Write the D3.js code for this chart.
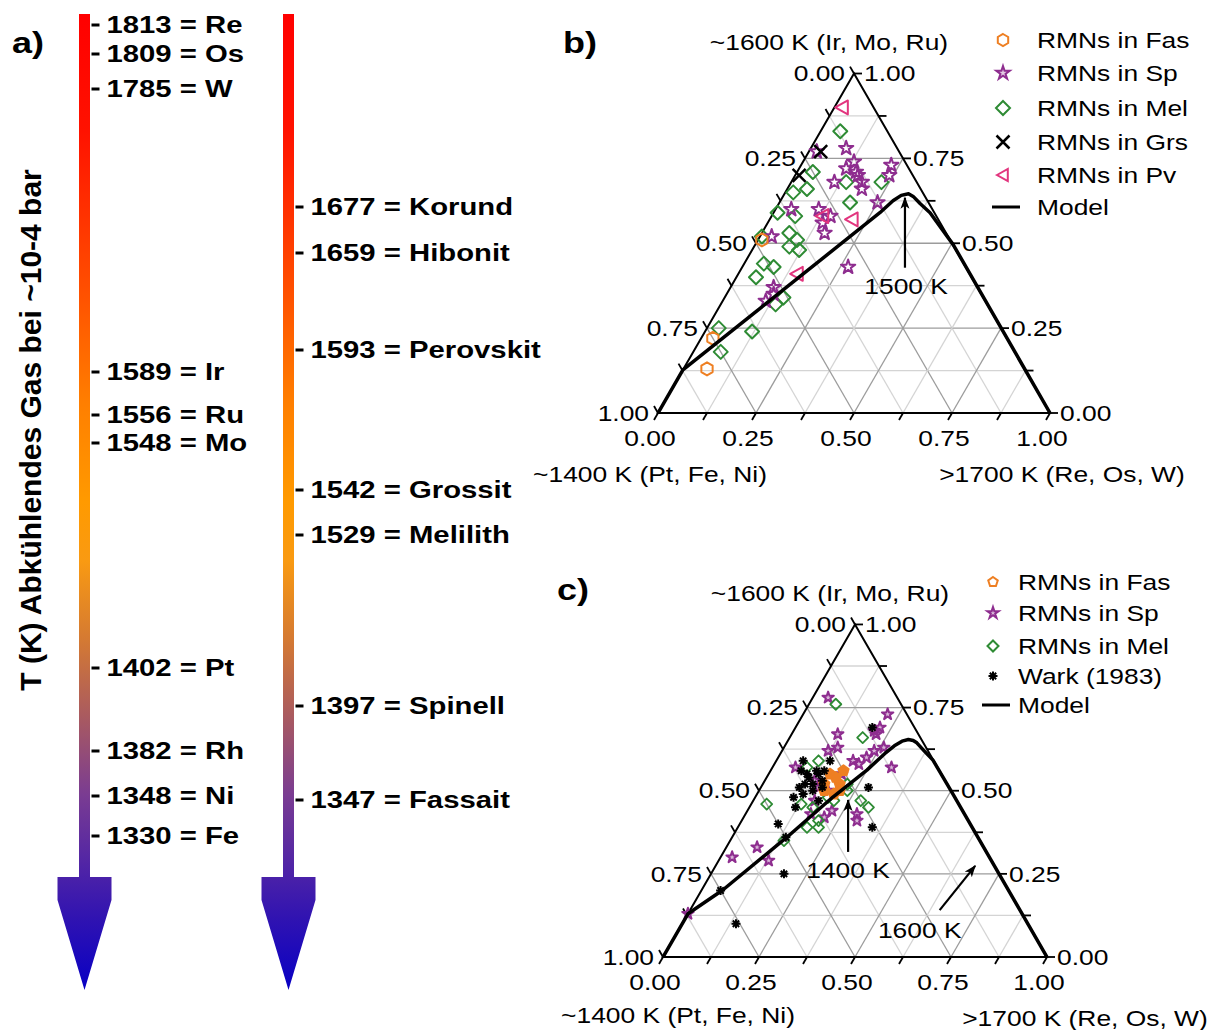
<!DOCTYPE html>
<html>
<head>
<meta charset="utf-8">
<script src="https://cdn.jsdelivr.net/npm/d3@7"></script>
<style>
  body { margin: 0; background: #fff; }
  text { font-family: "Liberation Sans", Arial, sans-serif; fill: #000; }
</style>
</head>
<body>
<svg id="chart" width="1217" height="1030"></svg>
<script>
// ---- panel a: condensation temperatures (K)
const leftNames = ['Re', 'Os', 'W', 'Ir', 'Ru', 'Mo', 'Pt', 'Rh', 'Ni', 'Fe'];
const leftTemps = [1813, 1809, 1785, 1589, 1556, 1548, 1402, 1382, 1348, 1330];
const rightNames = ['Korund', 'Hibonit', 'Perovskit', 'Grossit', 'Melilith', 'Spinell', 'Fassait'];
const rightTemps = [1677, 1659, 1593, 1542, 1529, 1397, 1347];
const axisTitleA = 'T (K) Abkühlendes Gas bei ~10-4 bar';

// ---- ternary data: [Re+Os+W fraction (bottom axis), Ir+Mo+Ru fraction (right axis)]
const tickValues = [0, 0.25, 0.5, 0.75, 1];
const titleTop = '~1600 K (Ir, Mo, Ru)';
const titleLeft = '~1400 K (Pt, Fe, Ni)';
const titleRight = '>1700 K (Re, Os, W)';

const fasB = [[0.01, 0.51], [0.03, 0.22], [0.06, 0.13]];
const spB = [[0.02, 0.77], [0.09, 0.78], [0.13, 0.74], [0.12, 0.72], [0.15, 0.71], [0.16, 0.70], [0.18, 0.68],
  [0.19, 0.66], [0.23, 0.73], [0.24, 0.70], [0.11, 0.68], [0.25, 0.62], [0.04, 0.60], [0.11, 0.60], [0.15, 0.58],
  [0.14, 0.56], [0.16, 0.53], [0.03, 0.52], [0.27, 0.43], [0.11, 0.37], [0.11, 0.33], [0.12, 0.35]];
const melB = [[0.05, 0.83], [0.04, 0.71], [0.05, 0.66], [0.14, 0.68], [0.18, 0.62], [0.23, 0.68], [0.02, 0.65],
  [0.01, 0.59], [0.06, 0.58], [0.005, 0.52], [0.07, 0.53], [0.10, 0.51], [0.09, 0.49], [0.12, 0.48], [0.05, 0.44],
  [0.08, 0.43], [0.05, 0.40], [0.15, 0.34], [0.14, 0.32], [0.12, 0.24], [0.03, 0.25], [0.07, 0.18]];
const grsB = [[0.03, 0.77], [0.01, 0.70]];
const pvB = [[0.02, 0.90], [0.13, 0.58], [0.21, 0.57], [0.15, 0.41]];
const modelB = [[0, 0], [0, 0.127], [0.271, 0.590], [0.287, 0.625], [0.300, 0.641], [0.316, 0.646],
  [0.332, 0.638], [0.360, 0.617], [0.399, 0.590], [0.505, 0.496], [1, 0]];

const fasC = [[0.16, 0.55], [0.20, 0.52], [0.20, 0.49], [0.19, 0.56], [0.16, 0.52], [0.18, 0.54], [0.21, 0.50], [0.17, 0.50]];
const spC = [[0.04, 0.78], [0.22, 0.73], [0.22, 0.69], [0.21, 0.68], [0.22, 0.67], [0.12, 0.67], [0.12, 0.62],
  [0.14, 0.63], [0.06, 0.57], [0.20, 0.59], [0.23, 0.60], [0.24, 0.62], [0.26, 0.63], [0.31, 0.57], [0.22, 0.58],
  [0.13, 0.53], [0.15, 0.51], [0.29, 0.43], [0.30, 0.41], [0.22, 0.44], [0.21, 0.42], [0.17, 0.43], [0.16, 0.47],
  [0.08, 0.33], [0.03, 0.30], [0.13, 0.29], [0.0, 0.13], [0.18, 0.50], [0.19, 0.55]];
const melC = [[0.07, 0.76], [0.19, 0.66], [0.11, 0.59], [0.09, 0.57], [0.04, 0.46], [0.28, 0.47], [0.31, 0.45],
  [0.13, 0.46], [0.18, 0.39], [0.21, 0.39], [0.14, 0.35], [0.21, 0.47], [0.165, 0.45], [0.20, 0.41], [0.23, 0.50],
  [0.22, 0.52], [0.19, 0.48]];
const warkC = [[0.07, 0.59], [0.20, 0.69], [0.28, 0.51], [0.35, 0.39], [0.10, 0.40], [0.10, 0.48], [0.14, 0.36],
  [0.19, 0.25], [0.05, 0.20], [0.14, 0.10], [0.08, 0.56], [0.11, 0.54], [0.12, 0.56], [0.15, 0.53], [0.14, 0.50],
  [0.12, 0.49], [0.14, 0.56], [0.17, 0.47], [0.12, 0.45], [0.14, 0.59], [0.10, 0.55], [0.13, 0.52], [0.13, 0.55],
  [0.16, 0.51], [0.10, 0.51], [0.11, 0.52]];
const modelC = [[0, 0], [0, 0.13], [0.055, 0.2015], [0.143, 0.361], [0.202, 0.481], [0.250, 0.562], [0.272, 0.612],
  [0.285, 0.635], [0.298, 0.649], [0.312, 0.654], [0.326, 0.651], [0.339, 0.644], [0.370, 0.620], [0.407, 0.592],
  [0.508, 0.492], [1, 0]];

const C = { fas: '#ee7f22', sp: '#8e2d8f', mel: '#2e8b34', grs: '#000', pv: '#e2357e', wark: '#000' };
const SX = 1.2; // horizontal text stretch of the original

const svg = d3.select('#chart');
const defs = svg.append('defs');

function label(g, x, y, s, o = {}) {
  return g.append('text')
    .attr('transform', `translate(${x},${y}) scale(${o.sx || SX},1)`)
    .attr('text-anchor', o.anchor || 'start')
    .attr('dominant-baseline', 'central')
    .style('font-size', (o.size || 22) + 'px')
    .style('font-weight', o.weight || 'normal')
    .text(s);
}

// ---- symbols
const poly = (n, r, rot = 0) => 'M' + d3.range(n).map((i) => {
  const a = rot + (i * 2 * Math.PI) / n;
  return [r * Math.sin(a), -r * Math.cos(a)].join(',');
}).join('L') + 'Z';
const sym = {
  hex: (r) => poly(6, r),
  pent: (r) => poly(5, r),
  diamond: (r) => `M0,${-r}L${r},0L0,${r}L${-r},0Z`,
  star: (r) => d3.symbol(d3.symbolStar, (r * r) / 0.8908)(),
  x: (r) => `M${-r},${-r}L${r},${r}M${-r},${r}L${r},${-r}`,
  tri: (r) => `M${-r},0L${r * 0.8},${-r}L${r * 0.8},${r}Z`,
  ast: (r) => [0, 45, 90, 135].map((a) => {
    const c = Math.cos((a * Math.PI) / 180) * r, s = Math.sin((a * Math.PI) / 180) * r;
    return `M${-c},${-s}L${c},${s}`;
  }).join(''),
};

// ---- panel a
const grad = defs.append('linearGradient').attr('id', 'tgrad').attr('gradientUnits', 'userSpaceOnUse')
  .attr('x1', 0).attr('x2', 0).attr('y1', 14).attr('y2', 990);
[[0, '#ff0000'], [0.12, '#ff1200'], [0.27, '#ff4a00'], [0.4, '#ff7f00'], [0.5, '#ff9a00'], [0.56, '#f99a12'],
  [0.64, '#d57a32'], [0.72, '#a95a60'], [0.8, '#7a3c92'], [0.88, '#4c22a8'], [0.93, '#2e12b2'], [1, '#0800c4']]
  .forEach(([o, c]) => grad.append('stop').attr('offset', o).attr('stop-color', c));

const bars = [
  { cx: 84.5, names: leftNames, temps: leftTemps, slots: [25, 54, 89, 372, 415, 443, 668, 751, 796, 836] },
  { cx: 288.5, names: rightNames, temps: rightTemps, slots: [207, 253, 350, 490, 535, 706, 800] },
];
const gA = svg.append('g');
bars.forEach((b) => {
  const y = d3.scaleLinear(b.temps, b.slots);
  const s = 5.5, hw = 27;
  gA.append('path').attr('fill', 'url(#tgrad)')
    .attr('d', `M${b.cx - s},14H${b.cx + s}V877H${b.cx + hw}V900L${b.cx},990L${b.cx - hw},900V877H${b.cx - s}Z`);
  b.temps.forEach((t, i) => {
    gA.append('line').attr('x1', b.cx + 7).attr('x2', b.cx + 15).attr('y1', y(t)).attr('y2', y(t))
      .attr('stroke', '#000').attr('stroke-width', 3);
    label(gA, b.cx + 22, y(t), `${t} = ${b.names[i]}`, { size: 24, weight: 'bold', sx: 1.22 });
  });
});
gA.append('text').attr('transform', 'translate(30,430) rotate(-90)').attr('text-anchor', 'middle')
  .attr('dominant-baseline', 'central').style('font-size', '30px').style('font-weight', 'bold').text(axisTitleA);
label(gA, 12, 43, 'a)', { size: 30, weight: 'bold' });

// ---- ternary panels
const SQ3 = Math.sqrt(3) / 2;
function ternary(cfg) {
  const w = cfg.xR - cfg.xL, h = w * SQ3;
  const xs = d3.scaleLinear([0, 1], [cfg.xL, cfg.xR]);
  const ys = d3.scaleLinear([0, 1], [cfg.yB, cfg.yB - h]);
  const P = ([r, t]) => [xs(r + t / 2), ys(t)];
  const g = svg.append('g');

  const grid = [];
  d3.range(1, 8).map((i) => i / 8).forEach((v) => {
    const major = Math.abs(v * 4 - Math.round(v * 4)) < 1e-9;
    grid.push({ a: [0, v], b: [1 - v, v], major }, { a: [v, 0], b: [v, 1 - v], major }, { a: [1 - v, 0], b: [0, 1 - v], major });
  });
  g.selectAll('line.grid').data(grid).join('line')
    .attr('x1', (d) => P(d.a)[0]).attr('y1', (d) => P(d.a)[1])
    .attr('x2', (d) => P(d.b)[0]).attr('y2', (d) => P(d.b)[1])
    .attr('stroke', (d) => (d.major ? '#9c9c9c' : '#d4d4d4')).attr('stroke-width', 1.3);

  g.append('path').attr('d', d3.line()([P([0, 0]), P([1, 0]), P([0, 1])]) + 'Z')
    .attr('fill', 'none').attr('stroke', '#000').attr('stroke-width', 2);

  const tl = 8;
  d3.range(0, 9).map((i) => i / 8).forEach((v) => {
    const major = tickValues.some((t) => Math.abs(t - v) < 1e-9);
    const txt = v.toFixed(2);
    const pl = P([0, 1 - v]), pb = P([v, 0]), pr = P([1 - v, v]);
    const ticks = [
      [pl, [pl[0] - tl * 0.5, pl[1] - tl * SQ3]],
      [pb, [pb[0] - tl * 0.5, pb[1] + tl * SQ3]],
      [pr, [pr[0] + tl, pr[1]]],
    ];
    ticks.forEach(([a, b]) => g.append('line').attr('x1', a[0]).attr('y1', a[1]).attr('x2', b[0]).attr('y2', b[1])
      .attr('stroke', '#000').attr('stroke-width', 1.8));
    if (major) {
      label(g, pl[0] - 9, pl[1], txt, { anchor: 'end' });
      label(g, pb[0] - 8, pb[1] + 25, txt, { anchor: 'middle' });
      label(g, pr[0] + 10, pr[1], txt);
    }
  });

  const apex = P([0, 1]), c0 = P([0, 0]), c1 = P([1, 0]);
  label(g, apex[0] - 25, apex[1] - 31, titleTop, { anchor: 'middle' });
  label(g, c0[0] + cfg.tl[0], c0[1] + cfg.tl[1], titleLeft, { anchor: 'middle' });
  label(g, c1[0] + cfg.tr[0], c1[1] + cfg.tr[1], titleRight, { anchor: 'middle' });
  label(g, cfg.tag[0], cfg.tag[1], cfg.tagText, { size: 30, weight: 'bold' });

  const pts = g.append('g');
  cfg.series.forEach((s) => {
    pts.selectAll(null).data(s.data).join('path')
      .attr('transform', (d) => `translate(${P(d)})`)
      .attr('d', sym[s.sym](s.r))
      .attr('fill', s.fill || 'none').attr('stroke', s.color).attr('stroke-width', s.sw || 1.8)
      .attr('stroke-linejoin', 'round');
  });

  g.append('path').attr('d', d3.line().x((d) => P(d)[0]).y((d) => P(d)[1]).curve(d3.curveLinear)(cfg.model))
    .attr('fill', 'none').attr('stroke', '#000').attr('stroke-width', 3.5).attr('stroke-linejoin', 'round');

  cfg.notes.forEach((n) => {
    const a = P(n.tail), b = P(n.tip), t = P(n.text);
    g.append('line').attr('x1', a[0]).attr('y1', a[1]).attr('x2', b[0]).attr('y2', b[1])
      .attr('stroke', '#000').attr('stroke-width', 2.2).attr('marker-end', 'url(#ah)');
    label(g, t[0], t[1], n.label, { anchor: 'middle' });
  });

  const lg = g.append('g');
  cfg.legend.forEach((it, i) => {
    const y = cfg.legY[i], x = cfg.legX;
    if (it.sym === 'line') {
      lg.append('line').attr('x1', x - 11).attr('x2', x + 17).attr('y1', y).attr('y2', y).attr('stroke', '#000').attr('stroke-width', 3);
    } else {
      lg.append('path').attr('transform', `translate(${x},${y})`).attr('d', sym[it.sym](it.r))
        .attr('fill', it.fill || 'none').attr('stroke', it.color).attr('stroke-width', it.sw || 2);
    }
    label(lg, cfg.legTextX, y, it.text);
  });
}

defs.append('marker').attr('id', 'ah').attr('viewBox', '0 -5 12 10').attr('refX', 11).attr('refY', 0)
  .attr('markerWidth', 12).attr('markerHeight', 10).attr('markerUnits', 'userSpaceOnUse').attr('orient', 'auto')
  .append('path').attr('d', 'M0,-4.5L12,0L0,4.5L3,0Z').attr('fill', '#000');

ternary({
  xL: 658, xR: 1050, yB: 413, tl: [-8, 61], tr: [12, 61], tag: [563, 43], tagText: 'b)',
  series: [
    { data: melB, sym: 'diamond', r: 7, color: C.mel, sw: 2 },
    { data: spB, sym: 'star', r: 7.5, color: C.sp, sw: 2 },
    { data: fasB, sym: 'hex', r: 6.5, color: C.fas, sw: 2 },
    { data: pvB, sym: 'tri', r: 7, color: C.pv, sw: 2 },
    { data: grsB, sym: 'x', r: 6.5, color: C.grs, sw: 2.5 },
  ],
  model: modelB,
  notes: [{ label: '1500 K', tip: [0.313, 0.634], tail: [0.416, 0.428], text: [0.447, 0.372] }],
  legX: 1003, legTextX: 1037, legY: [40, 73, 108, 142, 175, 207],
  legend: [
    { sym: 'hex', r: 6, color: C.fas, text: 'RMNs in Fas' },
    { sym: 'star', r: 7, color: C.sp, text: 'RMNs in Sp', fill: 'rgba(142,45,143,0.25)' },
    { sym: 'diamond', r: 7, color: C.mel, text: 'RMNs in Mel' },
    { sym: 'x', r: 6.5, color: C.grs, text: 'RMNs in Grs', sw: 2.5 },
    { sym: 'tri', r: 6, color: C.pv, text: 'RMNs in Pv' },
    { sym: 'line', text: 'Model' },
  ],
});

ternary({
  xL: 663, xR: 1047, yB: 957, tl: [15, 58], tr: [38, 61], tag: [557, 590], tagText: 'c)',
  series: [
    { data: spC, sym: 'star', r: 6, color: C.sp, fill: 'rgba(142,45,143,0.35)', sw: 2 },
    { data: melC, sym: 'diamond', r: 5.5, color: C.mel, sw: 1.8 },
    { data: fasC, sym: 'pent', r: 5.5, color: C.fas, fill: C.fas, sw: 1.8 },
    { data: warkC, sym: 'ast', r: 4.5, color: C.wark, sw: 2 },
  ],
  model: modelC,
  notes: [
    { label: '1400 K', tip: [0.246, 0.472], tail: [0.324, 0.316], text: [0.351, 0.262] },
    { label: '1600 K', tip: [0.676, 0.274], tail: [0.65, 0.141], text: [0.628, 0.081] },
  ],
  legX: 993, legTextX: 1018, legY: [582, 613, 646, 676, 705],
  legend: [
    { sym: 'pent', r: 5, color: C.fas, text: 'RMNs in Fas' },
    { sym: 'star', r: 6, color: C.sp, text: 'RMNs in Sp', fill: 'rgba(142,45,143,0.35)' },
    { sym: 'diamond', r: 5.5, color: C.mel, text: 'RMNs in Mel' },
    { sym: 'ast', r: 4.5, color: C.wark, text: 'Wark (1983)', sw: 2 },
    { sym: 'line', text: 'Model' },
  ],
});
</script>
</body>
</html>
